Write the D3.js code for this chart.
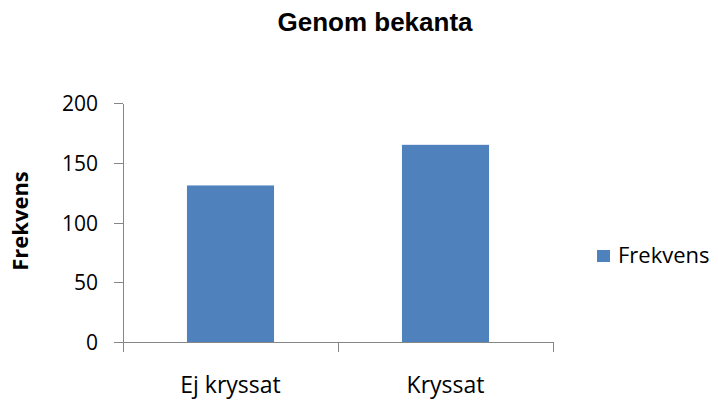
<!DOCTYPE html>
<meta charset="utf-8">
<title>Genom bekanta</title>
<style>
  body {
    margin: 0;
    padding: 0;
    background-color: #fff;
    overflow: hidden;
  }

  .axis path,
  .axis line {
    stroke: #868686;
    stroke-width: 1;
    shape-rendering: crispEdges;
  }

  .axis text {
    font-family: "Open Sans", sans-serif;
    fill: #000;
  }

  .bar {
    fill: #4f81bd;
  }
</style>

<body>
  <script src="https://cdn.jsdelivr.net/npm/d3@7"></script>
  <script>
    // data
    var categories = ["Ej kryssat", "Kryssat"];
    var values = [131, 165];
    var yTicks = [0, 50, 100, 150, 200];
    var seriesName = "Frekvens";

    var width = 718,
      height = 403;

    var svg = d3.select("body").append("svg")
      .attr("width", width)
      .attr("height", height);

    var x = d3.scaleBand()
      .domain(categories)
      .range([123, 553])
      .paddingInner(0.595)
      .paddingOuter(0.2975);

    var y = d3.scaleLinear()
      .domain([0, 200])
      .range([342, 103]);

    // bars
    svg.append("g")
      .selectAll("rect").data(values)
      .enter().append("rect")
      .attr("class", "bar")
      .attr("x", (d, i) => x(categories[i]))
      .attr("y", d => y(d))
      .attr("width", x.bandwidth())
      .attr("height", d => y(0) - y(d));

    // y axis
    var yAxis = svg.append("g")
      .attr("class", "axis")
      .attr("transform", "translate(123,0)")
      .call(d3.axisLeft(y).tickValues(yTicks).tickSize(9).tickSizeOuter(0).tickPadding(16));
    yAxis.selectAll("text").style("font-size", "21px").attr("dy", "0.36em");

    // x axis: ticks sit between categories, like the spreadsheet
    var xAxis = svg.append("g")
      .attr("class", "axis")
      .attr("transform", "translate(0,342)");
    xAxis.append("line")
      .attr("x1", 123).attr("x2", 553)
      .attr("y1", 0).attr("y2", 0);
    var edges = [123].concat(categories.map(c => x(c) + x.bandwidth() / 2 + x.step() / 2));
    xAxis.selectAll(".edge").data(edges)
      .enter().append("line")
      .attr("class", "edge")
      .attr("x1", d => d).attr("x2", d => d)
      .attr("y1", 0).attr("y2", 10);
    xAxis.selectAll(".cat").data(categories)
      .enter().append("text")
      .attr("class", "cat")
      .attr("x", d => x(d) + x.bandwidth() / 2)
      .attr("y", 51)
      .attr("text-anchor", "middle")
      .style("font-size", "23px")
      .text(d => d);

    // title
    svg.append("text")
      .attr("x", 375)
      .attr("y", 31)
      .attr("text-anchor", "middle")
      .style("font-family", "'Liberation Sans', Arial, sans-serif")
      .style("font-weight", "bold")
      .style("font-size", "26px")
      .text("Genom bekanta");

    // y axis title
    svg.append("text")
      .attr("transform", "translate(28,221) rotate(-90)")
      .attr("text-anchor", "middle")
      .style("font-family", "'Open Sans', sans-serif")
      .style("font-weight", "bold")
      .style("font-size", "22px")
      .text(seriesName);

    // legend
    var legend = svg.append("g").attr("transform", "translate(597,250)");
    legend.append("rect")
      .attr("class", "bar")
      .attr("width", 13)
      .attr("height", 12);
    legend.append("text")
      .attr("x", 21)
      .attr("y", 12.5)
      .style("font-family", "'Open Sans', sans-serif")
      .style("font-size", "22px")
      .text(seriesName);
  </script>
